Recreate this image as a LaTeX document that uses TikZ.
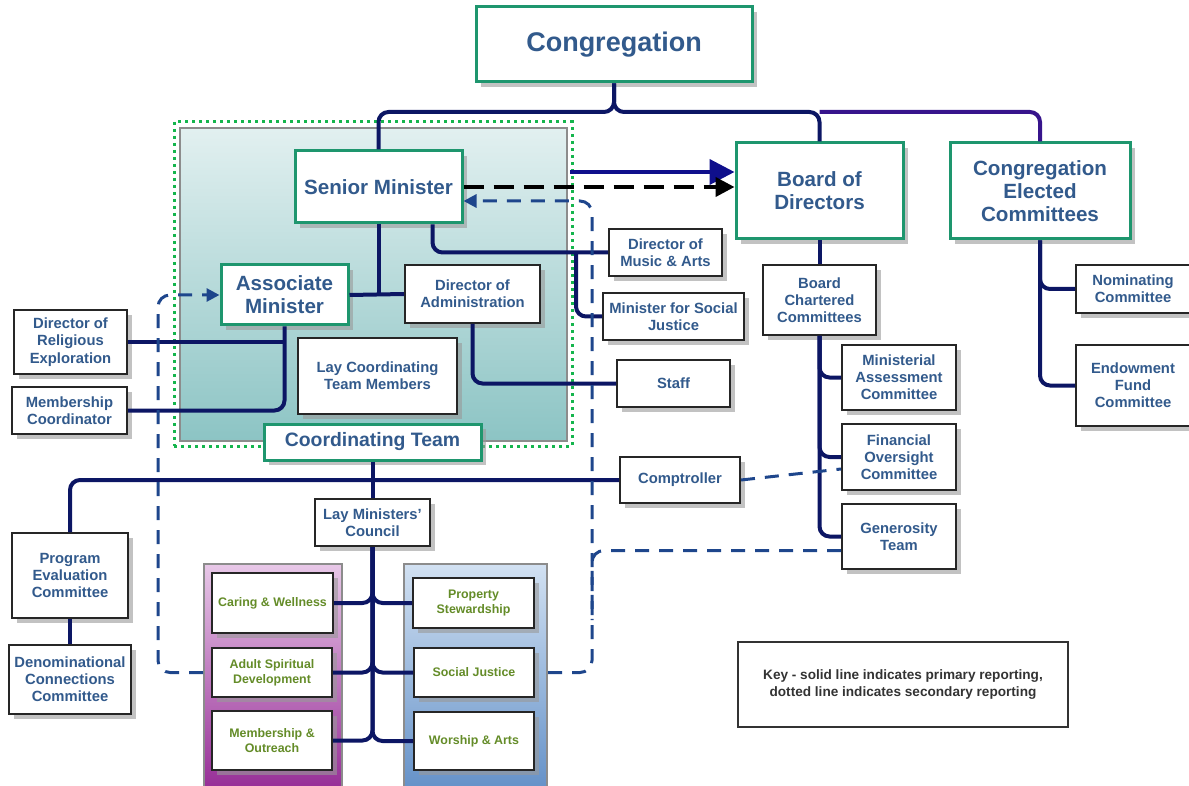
\documentclass[tikz,border=0pt]{standalone}
\usepackage{fontspec}
\setmainfont{Liberation Sans}
\usepackage{xcolor}
\usetikzlibrary{arrows.meta,shadows}
\definecolor{CongGreen}{RGB}{30,150,110}
\definecolor{LineNavy}{RGB}{12,22,100}
\definecolor{CecPurple}{RGB}{55,20,140}
\definecolor{TextBlue}{RGB}{50,90,140}
\definecolor{TextGreen}{RGB}{100,140,40}
\definecolor{DashBlue}{RGB}{30,70,140}
\definecolor{ArrowBlue}{RGB}{15,15,140}
\definecolor{TealTop}{RGB}{226,240,240}
\definecolor{TealBot}{RGB}{140,196,196}
\definecolor{PurpleTop}{RGB}{232,200,232}
\definecolor{PurpleBot}{RGB}{150,45,150}
\definecolor{BlueTop}{RGB}{210,225,242}
\definecolor{BlueBot}{RGB}{100,145,200}

\begin{document}
\begin{tikzpicture}[x=0.5pt,y=-0.5pt]

\tikzset{box shadow/.style={drop shadow={shadow xshift=2.5pt,shadow yshift=-2.5pt,fill=black!40,opacity=0.6}},
  main box/.style={draw=CongGreen, line width=1.5pt, fill=white, text=TextBlue, align=center,
    inner sep=1pt, font=\bfseries\fontsize{10.3}{11.5}\selectfont, box shadow},
  sub box/.style={draw=black!85, line width=1pt, fill=white, text=TextBlue, align=center,
    inner sep=1pt, font=\bfseries\fontsize{7.4}{8.6}\selectfont, box shadow},
  team box/.style={sub box, text=TextGreen, font=\bfseries\fontsize{6.2}{7.4}\selectfont},
  group/.style={draw=black!45, line width=1pt},
  link/.style={draw=LineNavy, line width=2pt, rounded corners=5pt},
  second/.style={draw=DashBlue, line width=1.5pt, dash pattern=on 7pt off 5pt, rounded corners=6pt},
  tip/.style={-{Triangle[length=#1,width=#1]}}
}
\useasboundingbox (0,0) rectangle (1189,786);

\node[group, top color=TealTop, bottom color=TealBot, minimum width=193.5pt, minimum height=156.5pt] (ctarea) at (373.5,284.5) {};
\node[draw=CongGreen!70!green, line width=1.5pt, dash pattern=on 1.5pt off 2pt, minimum width=199pt, minimum height=162pt] (ctdot) at (373,284) {};
\node[group, top color=PurpleTop, bottom color=PurpleBot, minimum width=69pt, minimum height=113pt] (purple) at (273,676.5) {};
\node[group, top color=BlueTop, bottom color=BlueBot, minimum width=71.5pt, minimum height=113pt] (blue) at (475.5,676.5) {};

\node[main box, minimum width=138pt, minimum height=37.5pt, font=\bfseries\fontsize{13.5}{16}\selectfont] (cong) at (614,44.5) {Congregation};
\node[main box, minimum width=83.5pt, minimum height=36pt] (senior) at (378.5,187) {Senior Minister};
\node[main box, minimum width=63.5pt, minimum height=30pt] (assoc) at (284.5,295) {Associate\\Minister};
\node[sub box, minimum width=67.5pt, minimum height=29pt] (diradm) at (472.5,294) {Director of\\Administration};
\node[sub box, minimum width=79.5pt, minimum height=38pt] (laycoord) at (377.5,376) {Lay Coordinating\\Team Members};
\node[main box, minimum width=108.5pt, minimum height=18pt, font=\bfseries\fontsize{9.7}{11}\selectfont] (coord) at (372.5,442) {Coordinating Team};
\node[sub box, minimum width=56.5pt, minimum height=32pt] (direl) at (70.5,342) {Director of\\Religious\\Exploration};
\node[sub box, minimum width=57.5pt, minimum height=23.5pt] (memco) at (69.5,410.5) {Membership\\Coordinator};
\node[sub box, minimum width=56.5pt, minimum height=23.5pt] (dirmus) at (665.5,252.5) {Director of\\Music \& Arts};
\node[sub box, minimum width=70.5pt, minimum height=23.5pt] (minsoc) at (673.5,316.5) {Minister for Social\\Justice};
\node[sub box, minimum width=56.5pt, minimum height=23.5pt] (staff) at (673.5,383.5) {Staff};
\node[main box, minimum width=83.5pt, minimum height=48pt] (board) at (819.5,191) {Board of\\Directors};
\node[main box, minimum width=90pt, minimum height=48pt] (cec) at (1040,191) {Congregation\\Elected\\Committees};
\node[sub box, minimum width=56.5pt, minimum height=35pt] (bcc) at (819.5,300) {Board\\Chartered\\Committees};
\node[sub box, minimum width=57pt, minimum height=32.5pt] (minass) at (899,377.5) {Ministerial\\Assessment\\Committee};
\node[sub box, minimum width=57pt, minimum height=33pt] (finov) at (899,457) {Financial\\Oversight\\Committee};
\node[sub box, minimum width=57pt, minimum height=32.5pt] (gener) at (899,536.5) {Generosity\\Team};
\node[sub box, minimum width=57pt, minimum height=24pt] (nomin) at (1133,289) {Nominating\\Committee};
\node[sub box, minimum width=57pt, minimum height=40.5pt] (endow) at (1133,385.5) {Endowment\\Fund\\Committee};
\node[sub box, minimum width=60pt, minimum height=23pt] (compt) at (680,480) {Comptroller};
\node[sub box, minimum width=58pt, minimum height=42.5pt] (progev) at (70,575.5) {Program\\Evaluation\\Committee};
\node[sub box, minimum width=61pt, minimum height=34.5pt] (denom) at (70,679.5) {Denominational\\Connections\\Committee};
\node[sub box, minimum width=57.5pt, minimum height=23.5pt] (laymc) at (372.5,522.5) {Lay Ministers'\\Council};

\node[team box, minimum width=60.5pt, minimum height=30pt] (caring) at (272.5,603) {Caring \& Wellness};
\node[team box, minimum width=60pt, minimum height=24.5pt] (adult) at (272,672.5) {Adult Spiritual\\Development};
\node[team box, minimum width=60pt, minimum height=29.5pt] (member) at (272,740.5) {Membership \&\\Outreach};
\node[team box, minimum width=60.5pt, minimum height=25pt] (property) at (473.5,603) {Property\\Stewardship};
\node[team box, minimum width=60pt, minimum height=24.5pt] (socjus) at (474,672.5) {Social Justice};
\node[team box, minimum width=60pt, minimum height=29pt] (worship) at (474,741) {Worship \& Arts};

\node[draw=black!80, line width=1pt, fill=white, text=black!80, align=center, font=\bfseries\fontsize{6.8}{8.2}\selectfont, minimum width=165pt, minimum height=42.5pt] (key) at (903,684.5) {Key - solid line indicates primary reporting,\\dotted line indicates secondary reporting};

\coordinate (top) at (614,112);
\coordinate (arrbase) at (570,172);
\coordinate (dl) at (158,400);
\coordinate (dr) at (592,400);
\coordinate (dg) at (592,620);

\draw[link] (cong.south) -- (top) -| (senior.north);
\draw[link] (cong.south) -- (top) -| (board.north);
\draw[link, draw=CecPurple] (board.north |- top) -| (cec.north);
\draw[link] (senior.south) -- (senior.south |- assoc.east);
\draw[link] (assoc.east) -- (diradm.west);
\draw[link] ([xshift=27pt]senior.south) |- (dirmus.west);
\draw[link] ([xshift=-16pt]dirmus.west) |- (minsoc.west);
\draw[link] (diradm.south) |- (staff.west);
\draw[link] (assoc.south) |- (memco.east);
\draw[link] (direl.east) -- (direl.east -| assoc.south);
\draw[link] (coord.south) -- (laymc.north);
\draw[link] (progev.north) |- (compt.west);
\draw[link] (progev.south) -- (denom.north);
\draw[link] (board.south) -- (bcc.north);
\foreach \n in {minass,finov,gener} \draw[link] (bcc.south) |- (\n.west);
\foreach \n in {nomin,endow} \draw[link] (cec.south) |- (\n.west);
\foreach \n in {caring,adult,member} \draw[link] (laymc.south) |- (\n.east);
\foreach \n in {property,socjus,worship} \draw[link] (laymc.south) |- (\n.west);

\draw[ArrowBlue, line width=2pt, tip=12.5pt] (arrbase) -- (arrbase -| board.west);
\draw[black, line width=2pt, dash pattern=on 10pt off 5pt, tip=9.5pt] (senior.east) -- (senior.east -| board.west);
\draw[second, tip=6.5pt] (purple.west |- adult.west) -| (dl) |- (assoc.west);
\draw[second, tip=6.5pt] (blue.east |- socjus.east) -| (dr) |- ([yshift=-7pt]senior.east);
\draw[second] ([yshift=-7pt]gener.west) -| (dg);
\draw[second] (compt.east) -- ([yshift=-6pt]finov.west);
\end{tikzpicture}
\end{document}
